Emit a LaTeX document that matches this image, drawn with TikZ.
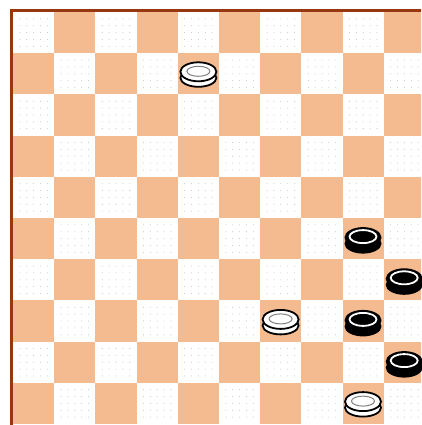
\documentclass[tikz,border=0pt]{standalone}
\definecolor{sqorange}{RGB}{244,186,144}
\definecolor{rimbrown}{RGB}{150,55,15}
\definecolor{dotgray}{RGB}{200,200,200}
\tikzset{
  x=1pt,y=-1pt,
  darksq/.style={fill=sqorange},
  wman/.pic={
    \draw[fill=white,line width=1.8pt] (0,5) ellipse [x radius=18,y radius=9];
    \draw[fill=white,line width=1.8pt] (0,-1) ellipse [x radius=18,y radius=9.5];
    \draw[gray,line width=1pt] (0,-1.5) ellipse [x radius=11.5,y radius=5];
  },
  bman/.pic={
    \fill[black] (0,5) ellipse [x radius=18.5,y radius=10];
    \fill[black] (0,-1) ellipse [x radius=18.5,y radius=10.5];
    \draw[white,line width=1.8pt] (0,-2) ellipse [x radius=13.5,y radius=6.5];
  }
}
\begin{document}
\begin{tikzpicture}
\useasboundingbox (0,0) rectangle (421,425);
\fill[white] (0,0) rectangle (421,425);
\begin{scope}
\clip (0,0) rectangle (421,425);
\foreach \r in {0,...,9}{
  \foreach \c in {0,...,9}{
    \pgfmathtruncatemacro{\odd}{mod(\r+\c,2)}
    \ifnum\odd=1
      \fill[darksq] ({13+41.2*\c},{12+41.2*\r}) rectangle ++(41.2,41.2);
    \else
      \foreach \i in {1,...,5}{\foreach \j in {1,...,5}{
        \fill[dotgray] ({13+41.2*\c+6.87*\i},{12+41.2*\r+6.87*\j}) circle (0.55);
      }}
    \fi
  }
}
\draw[rimbrown,line width=3.2pt] (11.5,430) -- (11.5,10.5) -- (430,10.5);
\end{scope}
% white men
\pic at (198.4,72.8) {wman};
\pic at (280.6,320.4) {wman};
\pic at (363.0,402.6) {wman};
% black men
\pic at (363.0,238.6) {bman};
\pic at (404.2,279.8) {bman};
\pic at (363.0,321.4) {bman};
\pic at (404.2,362.6) {bman};
\end{tikzpicture}
\end{document}
